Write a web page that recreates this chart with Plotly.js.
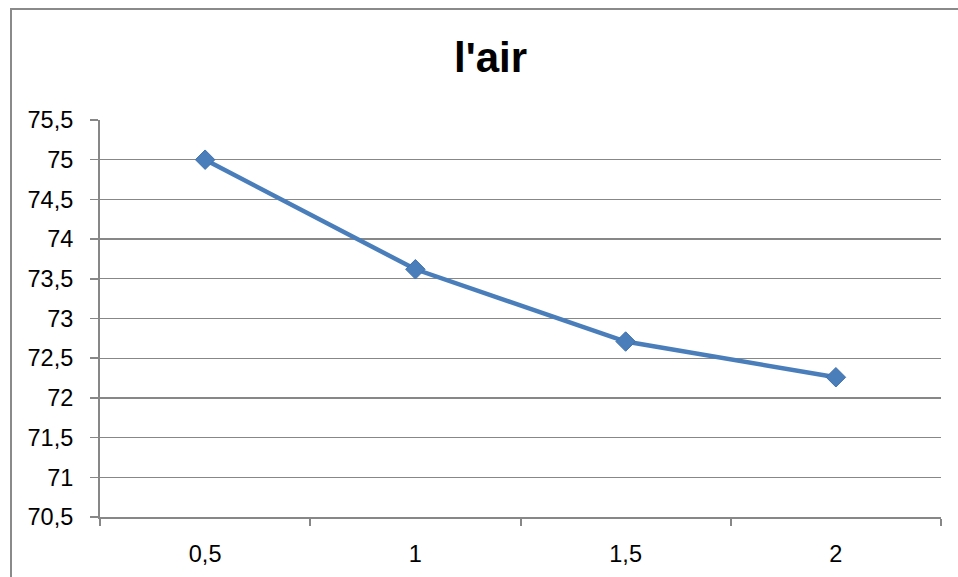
<!DOCTYPE html>
<html>
<head>
<meta charset="utf-8">
<script src="https://cdn.plot.ly/plotly-3.0.1.min.js"></script>
<style>
html,body{margin:0;padding:0;background:#fff;overflow:hidden;}
#frame{position:absolute;left:10px;top:8px;width:1000px;height:700px;border:2px solid #8a8a8a;box-sizing:border-box;pointer-events:none;z-index:5;}
#chart{position:absolute;left:0;top:0;width:958px;height:577px;}
</style>
</head>
<body>
<div id="chart"></div>
<div id="frame"></div>
<script>
const categories = ["0,5", "1", "1,5", "2"];
const values = [75.0, 73.62, 72.71, 72.26];
const chartTitle = "l'air";

const blue = "#4a7ebb";
const grid = "#878787";
const font = "Liberation Sans, Arial, sans-serif";

const trace = {
  x: categories,
  y: values,
  type: "scatter",
  mode: "lines+markers",
  line: {color: blue, width: 4.5},
  marker: {symbol: "diamond", size: 15, color: blue, line: {color: "#3f72ad", width: 1}},
  showlegend: false,
  hoverinfo: "none"
};

const layout = {
  width: 958,
  height: 577,
  margin: {l: 100, r: 17, t: 120, b: 60},
  paper_bgcolor: "#fff",
  plot_bgcolor: "#fff",
  separators: ", ",
  font: {family: font, color: "#000", size: 23.5},
  title: {
    text: "<b>" + chartTitle + "</b>",
    font: {family: font, size: 42, color: "#000"},
    x: 0.512, xanchor: "center",
    y: 1 - 57 / 577, yref: "container", yanchor: "middle"
  },
  xaxis: {
    type: "category",
    range: [-0.5, 3.5],
    tickson: "boundaries",
    ticks: "outside",
    ticklen: 7,
    tickwidth: 2,
    tickcolor: grid,
    showline: true,
    linecolor: grid,
    linewidth: 2,
    showgrid: false,
    ticklabelstandoff: 15,
    tickfont: {family: font, size: 23.5, color: "#000"},
    fixedrange: true
  },
  yaxis: {
    range: [70.5, 75.5],
    dtick: 0.5,
    tick0: 70.5,
    ticks: "outside",
    ticklen: 8,
    tickwidth: 1.5,
    tickcolor: grid,
    showline: true,
    linecolor: grid,
    linewidth: 2,
    showgrid: true,
    gridcolor: grid,
    gridwidth: 1.3,
    zeroline: false,
    ticklabelstandoff: 12,
    tickfont: {family: font, size: 23.5, color: "#000"},
    fixedrange: true
  }
};

Plotly.newPlot("chart", [trace], layout, {displayModeBar: false, staticPlot: true});
</script>
</body>
</html>
